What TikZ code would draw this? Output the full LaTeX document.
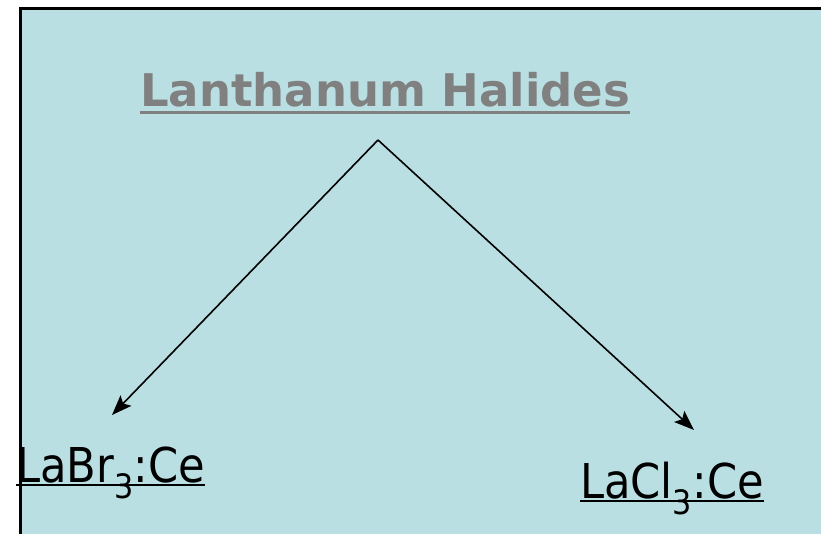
\documentclass[tikz,border=0pt]{standalone}
\usepackage{fontspec}
\setmainfont{DejaVu Sans}
\newfontfamily\condfont{DejaVu Sans Condensed}
\usetikzlibrary{arrows.meta}
\definecolor{bgblue}{HTML}{B9DFE3}
\definecolor{titlegray}{HTML}{808080}
\tikzset{
  lbl/.style={inner sep=0pt, anchor=base west, font=\condfont\fontsize{48}{54}\selectfont, text=black},
  ttl/.style={inner sep=0pt, anchor=base west, font=\fontsize{45}{50}\selectfont\bfseries, text=titlegray},
  conn/.style={draw=black, line width=1.6pt, -{Stealth[length=20pt,width=15pt,inset=4pt]}},
}
\begin{document}
\begin{tikzpicture}[x=1pt,y=-1pt]
\useasboundingbox (0,0) rectangle (821,534);
\fill[bgblue] (20,8) rectangle (821,534);
\draw[line width=3pt] (20.5,534) -- (20.5,8.5) -- (821,8.5);
\node[ttl] (t) at (140,107) {Lanthanum Halides};
\draw[titlegray, line width=3pt] ([yshift=-6pt]t.base west) -- ([yshift=-6pt]t.base east);
\node[lbl] (lb) at (16,482) {LaBr\textsubscript{3}:Ce};
\draw[line width=2.2pt] ([yshift=-3pt]lb.base west) -- ([yshift=-3pt]lb.base east);
\node[lbl] (lc) at (580,498) {LaCl\textsubscript{3}:Ce};
\draw[line width=2.2pt] ([yshift=-3pt]lc.base west) -- ([yshift=-3pt]lc.base east);
\coordinate (apex) at (378,140);
\coordinate (lend) at (112,415);
\coordinate (rend) at (694,430);
\draw[conn] (apex) -- (lend);
\draw[conn] (apex) -- (rend);
\end{tikzpicture}
\end{document}
